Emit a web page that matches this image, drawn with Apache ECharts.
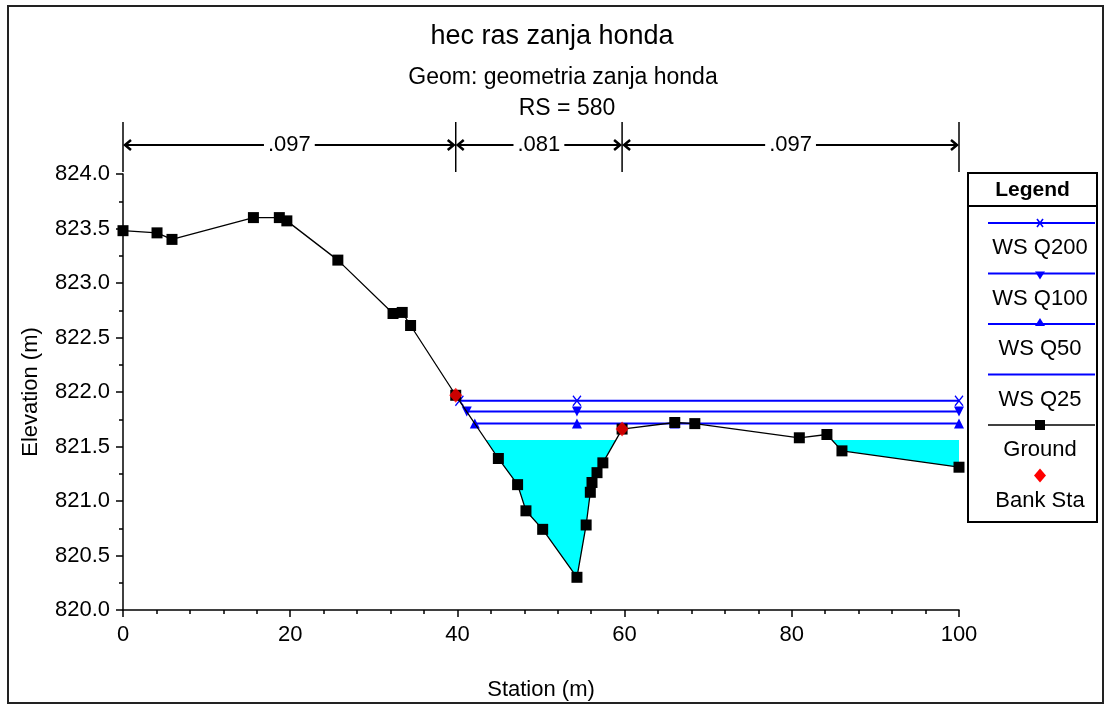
<!DOCTYPE html>
<html>
<head>
<meta charset="utf-8">
<script src="https://cdn.jsdelivr.net/npm/echarts@6/dist/echarts.min.js"></script>
<style>
html,body{margin:0;padding:0;background:#fff;}
#chart{width:1105px;height:705px;}
</style>
</head>
<body>
<div id="chart"></div>
<script>
// ---- data ----
const groundStation = [0, 4.07, 5.86, 15.6, 18.7, 19.6, 25.7, 32.3, 33.4, 34.4, 39.8, 44.9, 47.2, 48.2, 50.2, 54.3, 55.4, 55.9, 56.1, 56.7, 57.4, 59.7, 66.0, 68.4, 80.9, 84.2, 86.0, 100];
const groundElev = [823.48, 823.46, 823.40, 823.60, 823.60, 823.57, 823.21, 822.72, 822.73, 822.61, 821.97, 821.39, 821.15, 820.91, 820.74, 820.30, 820.78, 821.08, 821.17, 821.26, 821.35, 821.66, 821.72, 821.71, 821.58, 821.61, 821.46, 821.31];
const bankStation = [39.8, 59.7];
const wsNames = ['WS Q200', 'WS Q100', 'WS Q50', 'WS Q25'];
const wsElev = [821.92, 821.82, 821.71, 821.56];
const wsMarkerStations = [[54.3, 100], [54.3, 100], [54.3, 66.0, 68.4, 100], []];
const nBreaks = [0, 39.8, 59.7, 100];
const nValues = ['.097', '.081', '.097'];
const xTicks = [0, 20, 40, 60, 80, 100];
const yTicks = [820.0, 820.5, 821.0, 821.5, 822.0, 822.5, 823.0, 823.5, 824.0];

const FONT = 'Liberation Sans';
const FS = 22;

// ---- helpers ----
function groundAt(x) {
  for (let i = 0; i < groundStation.length - 1; i++) {
    if (x >= groundStation[i] && x <= groundStation[i + 1]) {
      const t = (x - groundStation[i]) / (groundStation[i + 1] - groundStation[i]);
      return groundElev[i] + t * (groundElev[i + 1] - groundElev[i]);
    }
  }
  return groundElev[groundElev.length - 1];
}
function leftEdge(level) {
  for (let i = 0; i < groundStation.length - 1; i++) {
    const a = groundElev[i], b = groundElev[i + 1];
    if (a >= level && b < level) {
      return groundStation[i] + (a - level) / (a - b) * (groundStation[i + 1] - groundStation[i]);
    }
  }
  return groundStation[0];
}
function wetPolygons(level) {
  const polys = [];
  let cur = null;
  for (let i = 0; i < groundStation.length; i++) {
    const x = groundStation[i], y = groundElev[i];
    if (i > 0) {
      const px = groundStation[i - 1], py = groundElev[i - 1];
      if ((py - level) * (y - level) < 0) {
        const cx = px + (level - py) / (y - py) * (x - px);
        if (cur) { cur.push([cx, level]); polys.push(cur); cur = null; }
        else { cur = [[cx, level]]; }
      }
    }
    if (y < level) {
      if (!cur) cur = [[x, level]];
      cur.push([x, y]);
    }
  }
  if (cur) { cur.push([groundStation[groundStation.length - 1], level]); polys.push(cur); }
  return polys;
}

const wsColor = '#0000ff';
const series = [];

// cyan fill for lowest WS profile
const fillPolys = wetPolygons(wsElev[3]);
series.push({
  type: 'custom', name: 'fill', z: 1, silent: true,
  data: fillPolys.map((p, i) => [i]),
  renderItem: function (params, api) {
    const poly = fillPolys[params.dataIndex];
    return {
      type: 'polygon',
      shape: { points: poly.map(pt => api.coord(pt)) },
      style: { fill: '#00ffff', stroke: null }
    };
  }
});

// water surfaces
wsNames.forEach((nm, k) => {
  const x0 = leftEdge(wsElev[k]);
  const pts = [[x0, wsElev[k]]];
  wsMarkerStations[k].forEach(s => pts.push([s, wsElev[k]]));
  const s = {
    type: 'line', name: nm, z: 3,
    data: pts,
    lineStyle: { color: wsColor, width: 2 },
    itemStyle: { color: wsColor },
    symbol: ['path://M0,0 L10,12 M10,0 L0,12', 'triangle', 'triangle', 'none'][k],
    symbolRotate: [0, 180, 0, 0][k],
    symbolSize: k === 0 ? [8, 10] : 10,
    showSymbol: k !== 3,
    showAllSymbol: true,
    animation: false
  };
  if (k === 0) s.itemStyle = { color: 'none', borderColor: wsColor, borderWidth: 1.5 };
  series.push(s);
});

// ground
series.push({
  type: 'line', name: 'Ground', z: 4,
  data: groundStation.map((s, i) => [s, groundElev[i]]),
  lineStyle: { color: '#000', width: 1.3 },
  itemStyle: { color: '#000' },
  symbol: 'rect', symbolSize: 11,
  showAllSymbol: true,
  animation: false
});

// bank stations
series.push({
  type: 'scatter', name: 'Bank Sta', z: 5,
  data: bankStation.map(s => [s, groundAt(s)]),
  symbol: 'diamond', symbolSize: [13, 15],
  itemStyle: { color: '#ff0000' },
  animation: false
});

// Manning n brackets above the plot
series.push({
  type: 'custom', name: 'nvalues', z: 6, silent: true, clip: false,
  data: nValues.map((v, i) => [nBreaks[i], nBreaks[i + 1]]),
  renderItem: function (params, api) {
    const i = params.dataIndex;
    const a = api.coord([nBreaks[i], 824])[0];
    const b = api.coord([nBreaks[i + 1], 824])[0];
    const top = api.coord([0, 824])[1];
    const yArrow = top - 29;
    const children = [
      { type: 'line', shape: { x1: a + 2, y1: yArrow, x2: b - 2, y2: yArrow }, style: { stroke: '#000', lineWidth: 2 } },
      { type: 'polyline', shape: { points: [[a + 8, yArrow - 5], [a + 2, yArrow], [a + 8, yArrow + 5]] }, style: { stroke: '#000', lineWidth: 2.5, fill: null } },
      { type: 'polyline', shape: { points: [[b - 8, yArrow - 5], [b - 2, yArrow], [b - 8, yArrow + 5]] }, style: { stroke: '#000', lineWidth: 2.5, fill: null } },
      { type: 'text', x: (a + b) / 2, y: yArrow, style: { text: nValues[i], fontFamily: FONT, fontSize: FS, fill: '#000', align: 'center', verticalAlign: 'middle', backgroundColor: '#fff', padding: [0, 4] } }
    ];
    children.push({ type: 'line', shape: { x1: a, y1: top - 52, x2: a, y2: top - 2 }, style: { stroke: '#000', lineWidth: 1.5 } });
    if (i === nValues.length - 1) {
      children.push({ type: 'line', shape: { x1: b, y1: top - 52, x2: b, y2: top - 2 }, style: { stroke: '#000', lineWidth: 1.5 } });
    }
    return { type: 'group', children: children };
  }
});

// ---- legend (graphic) ----
const lgX = 968, lgY = 173, lgW = 129, lgH = 349;
const legendItems = [
  { label: 'WS Q200', color: wsColor, sym: 'x' },
  { label: 'WS Q100', color: wsColor, sym: 'down' },
  { label: 'WS Q50', color: wsColor, sym: 'up' },
  { label: 'WS Q25', color: wsColor, sym: 'none' },
  { label: 'Ground', color: '#000', sym: 'rect' },
  { label: 'Bank Sta', color: null, sym: 'diamond' }
];
const graphics = [
  { type: 'rect', shape: { x: 8, y: 6, width: 1095, height: 697 }, style: { fill: null, stroke: '#222', lineWidth: 2 }, z: 0 },
  { type: 'rect', shape: { x: lgX, y: lgY, width: lgW, height: lgH }, style: { fill: '#fff', stroke: '#000', lineWidth: 2 } },
  { type: 'line', shape: { x1: lgX, y1: lgY + 33, x2: lgX + lgW, y2: lgY + 33 }, style: { stroke: '#000', lineWidth: 2 } },
  { type: 'text', x: lgX + lgW / 2, y: lgY + 17, style: { text: 'Legend', fontFamily: FONT, fontWeight: 'bold', fontSize: 21, fill: '#000', align: 'center', verticalAlign: 'middle' } }
];
const cx = lgX + 72;
legendItems.forEach((it, i) => {
  const ly = 223 + i * 50.5;
  if (it.sym !== 'diamond') {
    graphics.push({ type: 'line', shape: { x1: lgX + 20, y1: ly, x2: lgX + lgW - 2, y2: ly }, style: { stroke: it.color, lineWidth: it.color === '#000' ? 1.5 : 2 } });
  }
  if (it.sym === 'x') {
    graphics.push({ type: 'polyline', shape: { points: [[cx - 3, ly - 4], [cx + 3, ly + 4]] }, style: { stroke: wsColor, lineWidth: 1.5 } });
    graphics.push({ type: 'polyline', shape: { points: [[cx + 3, ly - 4], [cx - 3, ly + 4]] }, style: { stroke: wsColor, lineWidth: 1.5 } });
  } else if (it.sym === 'down') {
    graphics.push({ type: 'polygon', shape: { points: [[cx - 5, ly - 2], [cx + 5, ly - 2], [cx, ly + 6]] }, style: { fill: wsColor } });
  } else if (it.sym === 'up') {
    graphics.push({ type: 'polygon', shape: { points: [[cx - 5, ly + 2], [cx + 5, ly + 2], [cx, ly - 6]] }, style: { fill: wsColor } });
  } else if (it.sym === 'rect') {
    graphics.push({ type: 'rect', shape: { x: cx - 5, y: ly - 5, width: 10, height: 10 }, style: { fill: '#000' } });
  } else if (it.sym === 'diamond') {
    graphics.push({ type: 'polygon', shape: { points: [[cx, ly - 7], [cx + 6, ly], [cx, ly + 7], [cx - 6, ly]] }, style: { fill: '#ff0000' } });
  }
  graphics.push({ type: 'text', x: cx, y: ly + 25, style: { text: it.label, fontFamily: FONT, fontSize: FS, fill: '#000', align: 'center', verticalAlign: 'middle' } });
});

const chart = echarts.init(document.getElementById('chart'), null, { renderer: 'canvas' });
chart.setOption({
  animation: false,
  backgroundColor: '#fff',
  title: [
    { text: 'hec ras zanja honda', left: 547, top: 18, textAlign: 'center', textStyle: { fontFamily: FONT, fontSize: 27, fontWeight: 'normal', color: '#000' } },
    { text: 'Geom: geometria zanja honda', left: 558, top: 61, textAlign: 'center', textStyle: { fontFamily: FONT, fontSize: 23, fontWeight: 'normal', color: '#000' } },
    { text: 'RS = 580', left: 562, top: 92, textAlign: 'center', textStyle: { fontFamily: FONT, fontSize: 23, fontWeight: 'normal', color: '#000' } }
  ],
  grid: { left: 123, right: 146, top: 174, bottom: 95, containLabel: false, outerBoundsMode: 'none' },
  xAxis: {
    type: 'value', min: 0, max: 100, interval: 20,
    name: 'Station (m)', nameLocation: 'middle', nameGap: 69,
    nameTextStyle: { fontFamily: FONT, fontSize: FS, color: '#000' },
    axisLine: { lineStyle: { color: '#000', width: 1.5 } },
    axisTick: { show: true, length: 7, lineStyle: { color: '#000', width: 1.5 } },
    minorTick: { show: true, splitNumber: 5, length: 4, lineStyle: { color: '#000', width: 1.5 } },
    axisLabel: { fontFamily: FONT, fontSize: FS, color: '#000', margin: 14, formatter: v => xTicks.includes(v) ? String(v) : '' },
    splitLine: { show: false }
  },
  yAxis: {
    type: 'value', min: 820, max: 824, interval: 0.5,
    name: 'Elevation (m)', nameLocation: 'middle', nameGap: 81,
    nameTextStyle: { fontFamily: FONT, fontSize: FS, color: '#000' },
    axisLine: { show: true, lineStyle: { color: '#000', width: 1.5 } },
    axisTick: { show: true, length: 7, lineStyle: { color: '#000', width: 1.5 } },
    minorTick: { show: true, splitNumber: 2, length: 4, lineStyle: { color: '#000', width: 1.5 } },
    axisLabel: { fontFamily: FONT, fontSize: FS, color: '#000', margin: 13, formatter: v => yTicks.some(t => Math.abs(t - v) < 1e-6) ? v.toFixed(1) : '' },
    splitLine: { show: false }
  },
  series: series,
  graphic: graphics
});
</script>
</body>
</html>
